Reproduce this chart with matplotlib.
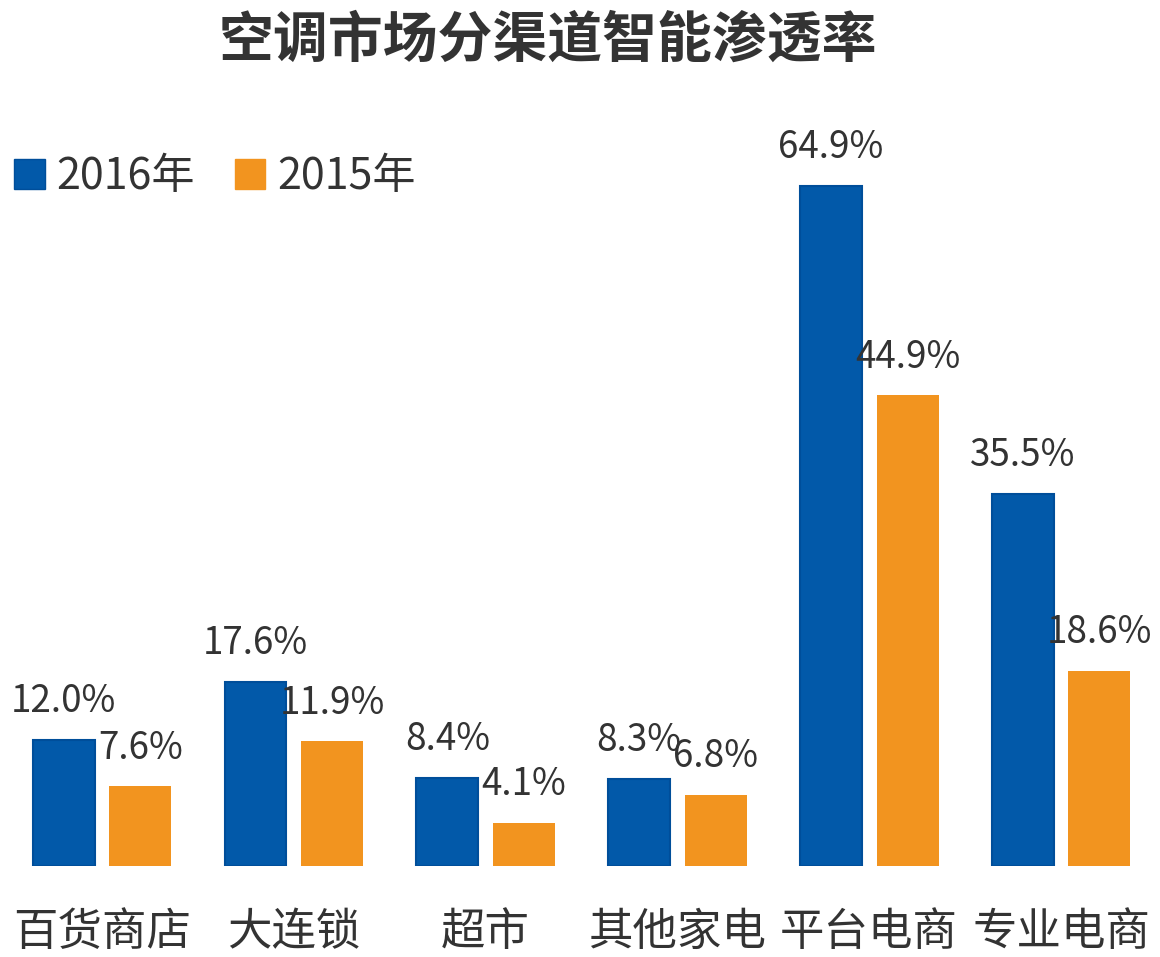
import numpy as np
import matplotlib
matplotlib.use("Agg")
import matplotlib.pyplot as plt
from matplotlib.patches import Patch

plt.rcParams['font.family'] = ['Noto Sans CJK SC', 'DejaVu Sans']

# ---- 数据 ---- #
categories = ["百货商店", "大连锁", "超市", "其他家电", "平台电商", "专业电商"]
rate_2016 = [12.0, 17.6, 8.4, 8.3, 64.9, 35.5]
rate_2015 = [7.6, 11.9, 4.1, 6.8, 44.9, 18.6]
series_names = ["2016年", "2015年"]

BLUE = "#0259A9"
BLUE_EDGE = "#004E9A"
ORANGE = "#F2941F"
TEXT = "#333333"

fig = plt.figure(figsize=(11.6, 9.57), dpi=100)
ax = fig.add_axes([0, (957 - 866) / 957, 1, 733.6 / 957])

x = np.arange(len(categories))
w = 0.323
off = 0.2

b1 = ax.bar(x - off, rate_2016, width=w, color=BLUE, edgecolor=BLUE_EDGE, linewidth=1.5)
b2 = ax.bar(x + off, rate_2015, width=w, color=ORANGE, edgecolor=ORANGE, linewidth=0)

# 数值标签
for bars, vals in ((b1, rate_2016), (b2, rate_2015)):
    for rect, v in zip(bars, vals):
        ax.annotate(f"{v:.1f}%", (rect.get_x() + rect.get_width() / 2, v),
                    xytext=(0, 20), textcoords="offset points",
                    ha="center", va="baseline", fontsize=26.5, color=TEXT)

ax.set_xlim(-0.532, 5.516)
ax.set_ylim(0, 70)
ax.set_xticks(x)
ax.set_xticklabels(categories, fontsize=32, color=TEXT)
ax.tick_params(axis="x", length=0, pad=31)
ax.set_yticks([])
for s in ax.spines.values():
    s.set_visible(False)
ax.patch.set_alpha(0)

# 图例
handles = [Patch(facecolor=BLUE, edgecolor=BLUE_EDGE), Patch(facecolor=ORANGE, edgecolor=ORANGE)]
fig.legend(handles, series_names, loc="center left", bbox_to_anchor=(0.005, 0.815),
           ncol=2, frameon=False, fontsize=31, handlelength=0.7, handleheight=0.7,
           handletextpad=0.28, columnspacing=0.93, labelcolor=TEXT,
           borderaxespad=0, borderpad=0.2)

fig.text(0.472, 0.958, "空调市场分渠道智能渗透率", ha="center", va="center",
         fontsize=39.5, fontweight="bold", color=TEXT)

fig.savefig("out.png", dpi=100)
